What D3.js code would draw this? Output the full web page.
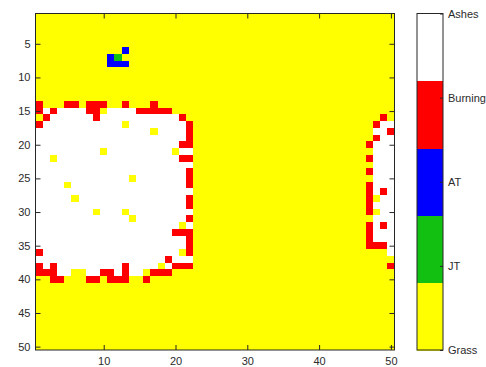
<!DOCTYPE html>
<html>
<head>
<meta charset="utf-8">
<script src="https://cdn.jsdelivr.net/npm/d3@7"></script>
<style>
  html, body { margin: 0; padding: 0; background: #fff; overflow: hidden; }
  svg { display: block; }
  text { font-family: "Liberation Sans", Arial, sans-serif; font-size: 11px; fill: #2b2b2b; }
</style>
</head>
<body>
<div id="plotContainer"></div>
<script>
// cell states, value 1..5 as on the colorbar
const categories = ["Grass", "JT", "AT", "Burning", "Ashes"];
const catColors = ["#ffff00", "#12c012", "#0000ff", "#ff0000", "#ffffff"];

const xTicks = [10, 20, 30, 40, 50];
const yTicks = [5, 10, 15, 20, 25, 30, 35, 40, 45, 50];

// 50 x 50 state grid, one string per row (row 1 at top), spaces every 10 columns
const gridRows = [
  "1111111111 1111111111 1111111111 1111111111 1111111111",
  "1111111111 1111111111 1111111111 1111111111 1111111111",
  "1111111111 1111111111 1111111111 1111111111 1111111111",
  "1111111111 1111111111 1111111111 1111111111 1111111111",
  "1111111111 1111111111 1111111111 1111111111 1111111111",
  "1111111111 1131111111 1111111111 1111111111 1111111111",
  "1111111111 3211111111 1111111111 1111111111 1111111111",
  "1111111111 3331111111 1111111111 1111111111 1111111111",
  "1111111111 1111111111 1111111111 1111111111 1111111111",
  "1111111111 1111111111 1111111111 1111111111 1111111111",
  "1111111111 1111111111 1111111111 1111111111 1111111111",
  "1111111111 1111111111 1111111111 1111111111 1111111111",
  "1111111111 1111111111 1111111111 1111111111 1111111111",
  "4111441444 1141114111 1111111111 1111111111 1111111111",
  "4545555441 5555444441 1111111111 1111111111 1111111111",
  "1455555545 5555555555 4111111111 1111111111 1111111141",
  "4555555555 5515555555 5411111111 1111111111 1111111455",
  "5555555555 5555551555 5411111111 1111111111 1111111554",
  "5555555555 5555555555 5411111111 1111111111 1111111455",
  "5555555555 5555555555 4411111111 1111111111 1111114555",
  "5555555551 5555555551 5511111111 1111111111 1111111555",
  "5515555555 5555555555 4411111111 1111111111 1111114555",
  "5555555555 5555555555 5511111111 1111111111 1111111555",
  "5555555555 5555555555 5411111111 1111111111 1111114555",
  "5555555555 5551555555 5411111111 1111111111 1111111555",
  "5555155555 5555555555 5411111111 1111111111 1111114555",
  "5555555555 5555555555 5511111111 1111111111 1111114545",
  "5555515555 5555555555 5411111111 1111111111 1111114155",
  "5555555555 5555555555 5411111111 1111111111 1111114555",
  "5555555515 5515555555 5511111111 1111111111 1111114155",
  "5555555555 5551555555 5411111111 1111111111 1111111555",
  "5555555555 5555555555 1511111111 1111111111 1111114545",
  "5555555555 5555555554 4411111111 1111111111 1111114555",
  "5555555555 5555555555 5411111111 1111111111 1111114555",
  "5555555555 5555555555 5411111111 1111111111 1111114445",
  "4555555555 5555555555 1411111111 1111111111 1111111115",
  "5555555555 5555555545 5511111111 1111111111 1111111111",
  "4545555555 5545555154 4411111111 1111111111 1111111114",
  "4445511554 4545514441 1111111111 1111111111 1111111111",
  "1144111441 4441141111 1111111111 1111111111 1111111111",
  "1111111111 1111111111 1111111111 1111111111 1111111111",
  "1111111111 1111111111 1111111111 1111111111 1111111111",
  "1111111111 1111111111 1111111111 1111111111 1111111111",
  "1111111111 1111111111 1111111111 1111111111 1111111111",
  "1111111111 1111111111 1111111111 1111111111 1111111111",
  "1111111111 1111111111 1111111111 1111111111 1111111111",
  "1111111111 1111111111 1111111111 1111111111 1111111111",
  "1111111111 1111111111 1111111111 1111111111 1111111111",
  "1111111111 1111111111 1111111111 1111111111 1111111111",
  "1111111111 1111111111 1111111111 1111111111 1111111111"
];

const width = 486, height = 367;
const plot = {left: 35.5, right: 394.5, top: 13.5, bottom: 350};
const cbar = {left: 417, right: 443};
const axisColor = "#262626";

// flatten grid into cells
let cells = [];
gridRows.forEach(function(row, r) {
  row.replace(/ /g, "").split("").forEach(function(ch, c) {
    cells.push({row: r + 1, col: c + 1, value: +ch});
  });
});

const svg = d3.select("#plotContainer")
  .append("svg")
  .attr("width", width)
  .attr("height", height);

const x = d3.scaleLinear().domain([0.5, 50.5]).range([plot.left, plot.right]);
const y = d3.scaleLinear().domain([0.5, 50.5]).range([plot.top, plot.bottom]);
const color = d3.scaleOrdinal().domain([1, 2, 3, 4, 5]).range(catColors);

// image cells
svg.append("g")
  .attr("shape-rendering", "crispEdges")
  .selectAll("rect")
  .data(cells)
  .enter().append("rect")
  .attr("x", d => x(d.col - 0.5))
  .attr("y", d => y(d.row - 0.5))
  .attr("width", d => x(d.col + 0.5) - x(d.col - 0.5) + 0.3)
  .attr("height", d => y(d.row + 0.5) - y(d.row - 0.5) + 0.3)
  .attr("fill", d => color(d.value));

// axes, ticks pointing inward on all four sides (box on)
function styleAxis(g) {
  g.select(".domain").remove();
  g.selectAll(".tick line").attr("stroke", axisColor);
  g.selectAll(".tick text").attr("fill", "#2b2b2b").style("font-size", "11px");
}

svg.append("g")
  .attr("transform", "translate(0," + plot.bottom + ")")
  .call(d3.axisBottom(x).tickValues(xTicks).tickSizeInner(-5).tickSizeOuter(0).tickPadding(7))
  .call(styleAxis);

svg.append("g")
  .attr("transform", "translate(0," + plot.top + ")")
  .call(d3.axisTop(x).tickValues(xTicks).tickSizeInner(-5).tickSizeOuter(0).tickFormat(""))
  .call(styleAxis);

svg.append("g")
  .attr("transform", "translate(" + plot.left + ",0)")
  .call(d3.axisLeft(y).tickValues(yTicks).tickSizeInner(-5).tickSizeOuter(0).tickPadding(5))
  .call(styleAxis);

svg.append("g")
  .attr("transform", "translate(" + plot.right + ",0)")
  .call(d3.axisRight(y).tickValues(yTicks).tickSizeInner(-5).tickSizeOuter(0).tickFormat(""))
  .call(styleAxis);

svg.append("rect")
  .attr("x", plot.left).attr("y", plot.top)
  .attr("width", plot.right - plot.left).attr("height", plot.bottom - plot.top)
  .attr("fill", "none").attr("stroke", axisColor).attr("stroke-width", 1);

// colorbar: one band per state, Grass at the bottom
const cbBand = d3.scaleBand().domain(categories).range([plot.bottom, plot.top]);
const cbY = d3.scaleLinear().domain([1, 5]).range([plot.bottom, plot.top]);

svg.append("g")
  .attr("shape-rendering", "crispEdges")
  .selectAll("rect")
  .data(categories)
  .enter().append("rect")
  .attr("x", cbar.left)
  .attr("y", d => cbBand(d))
  .attr("width", cbar.right - cbar.left)
  .attr("height", cbBand.bandwidth() + 0.5)
  .attr("fill", (d, i) => catColors[i]);

// labels run off the right edge like the original ("Burning" gets clipped)
svg.append("g")
  .attr("transform", "translate(" + cbar.right + ",0)")
  .call(d3.axisRight(cbY).tickValues([1, 2, 3, 4, 5]).tickSizeInner(-3).tickSizeOuter(0)
    .tickPadding(5).tickFormat((d, i) => categories[i]))
  .call(styleAxis);

svg.append("rect")
  .attr("x", cbar.left).attr("y", plot.top)
  .attr("width", cbar.right - cbar.left).attr("height", plot.bottom - plot.top)
  .attr("fill", "none").attr("stroke", axisColor).attr("stroke-width", 1);
</script>
</body>
</html>
